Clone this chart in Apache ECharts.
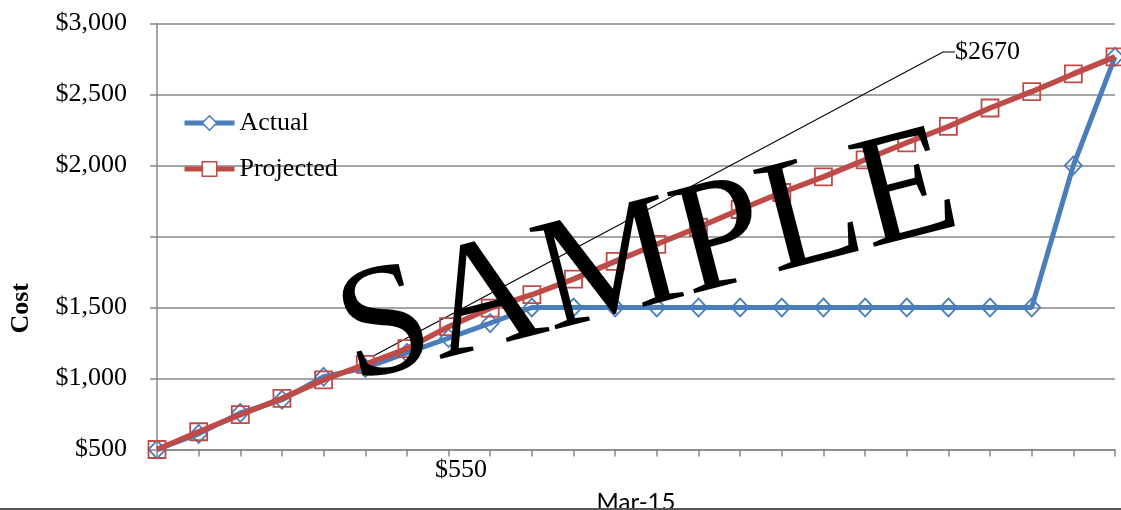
<!DOCTYPE html>
<html><head><meta charset="utf-8">
<script src="https://cdn.jsdelivr.net/npm/echarts@6/dist/echarts.min.js"></script>
<style>html,body{margin:0;padding:0;background:#fff}#c{width:1121px;height:510px}</style>
</head><body><div id="c"></div>
<script>
const categories = ['1','2','3','4','5','6','7','8','9','10','11','12','13','14','15','16','17','18','19','20','21','22','23','24'];
const actualCost = [0,110,258,350,512,575,680,785,890,1000,1000,1000,1000,1000,1000,1000,1000,1000,1000,1000,1000,1000,2000,2765];
const projectedCost = [0,125,245,360,490,600,710,865,995,1090,1200,1325,1445,1565,1690,1810,1920,2040,2160,2275,2405,2520,2645,2765];
const yTickValues = [0,500,1000,1500,2000,2500,3000];
const yTickLabels = ['$500','$1,000','$1,500','','$2,000','$2,500','$3,000'];
const calloutIndex = 5;
const calloutText = '$2670';
const noteText = '$550';
const xTitle = 'Mar-15';
const yTitle = 'Cost';
const watermark = 'SAMPLE';

const SERIF = '"Liberation Serif", "Times New Roman", serif';
const BLUE = '#4A7EBB', RED = '#BE4B48', GRID = '#878787';

const chart = echarts.init(document.getElementById('c'), null, {renderer:'canvas'});
chart.setOption({
  animation: false,
  backgroundColor: '#fff',
  grid: {left: 157, right: 6, top: 23.5, bottom: 60.5, containLabel: false, outerBoundsMode: 'none'},
  legend: {
    orient: 'vertical', left: 182, top: 110, padding: 0, itemWidth: 50, itemHeight: 18, itemGap: 20,
    textStyle: {fontFamily: SERIF, fontSize: 26, color: '#000'},
    lineStyle: {width: 5},
    itemStyle: {borderWidth: 1.5},
    data: [{name: 'Actual', itemStyle: {color: '#fff'}}, {name: 'Projected', itemStyle: {color: '#fff'}}]
  },
  xAxis: {
    type: 'category', data: categories, boundaryGap: false,
    name: xTitle, nameLocation: 'middle', nameGap: 41,
    nameTextStyle: {fontFamily: 'Lato, "Open Sans", sans-serif', fontSize: 24, color: '#000'},
    axisLine: {lineStyle: {color: GRID, width: 1.5}},
    axisTick: {show: true, interval: 0, length: 7, lineStyle: {color: GRID, width: 1.5}},
    axisLabel: {show: false},
    splitLine: {show: false}
  },
  yAxis: {
    type: 'value', min: 0, max: 3000, interval: 500,
    axisLine: {show: true, lineStyle: {color: GRID, width: 1.5}},
    axisTick: {show: true, length: 7, lineStyle: {color: GRID, width: 1.5}},
    axisLabel: {margin: 30, fontFamily: SERIF, fontSize: 26, color: '#000',
      formatter: v => { const i = yTickValues.indexOf(v); return i >= 0 ? yTickLabels[i] : ''; }},
    splitLine: {show: true, lineStyle: {color: GRID, width: 1.5}}
  },
  series: [
    {
      name: 'Actual', type: 'line', data: actualCost,
      symbol: 'diamond', symbolSize: [17, 18], showAllSymbol: true,
      lineStyle: {color: BLUE, width: 5},
      itemStyle: {color: 'transparent', borderColor: BLUE, borderWidth: 1.8},
      z: 2
    },
    {
      name: 'Projected', type: 'line',
      data: projectedCost.map((v, i) => i === calloutIndex
        ? {value: v, label: {show: true, formatter: calloutText}, labelLine: {show: true}}
        : v),
      symbol: 'rect', symbolSize: 17, showAllSymbol: true,
      lineStyle: {color: RED, width: 5.5},
      itemStyle: {color: 'transparent', borderColor: RED, borderWidth: 1.8},
      label: {show: false, fontFamily: SERIF, fontSize: 26, color: '#000'},
      labelLine: {show: true, length2: 12, lineStyle: {color: '#000', width: 1.2}},
      labelLayout: params => params.dataIndex === calloutIndex
        ? {x: 955, y: 52, align: 'left', verticalAlign: 'middle'} : null,
      z: 3
    }
  ],
  graphic: [
    {type: 'text', left: 8, top: 283, z: 50, rotation: Math.PI / 2,
     style: {text: yTitle, font: 'bold 26px ' + SERIF, fill: '#000'}},
    {type: 'text', x: 461, y: 470, z: 50,
     style: {text: noteText, font: '26px ' + SERIF, fill: '#000', align: 'center', verticalAlign: 'middle'}},
    {type: 'text', x: 648, y: 262, z: 100, rotation: 14.5 * Math.PI / 180,
     style: {text: watermark, font: '160px ' + SERIF, fill: '#000', align: 'center', verticalAlign: 'middle'}},
    {type: 'rect', left: 0, top: 508, z: 100, shape: {width: 1121, height: 2}, style: {fill: '#555'}}
  ]
});
</script></body></html>
